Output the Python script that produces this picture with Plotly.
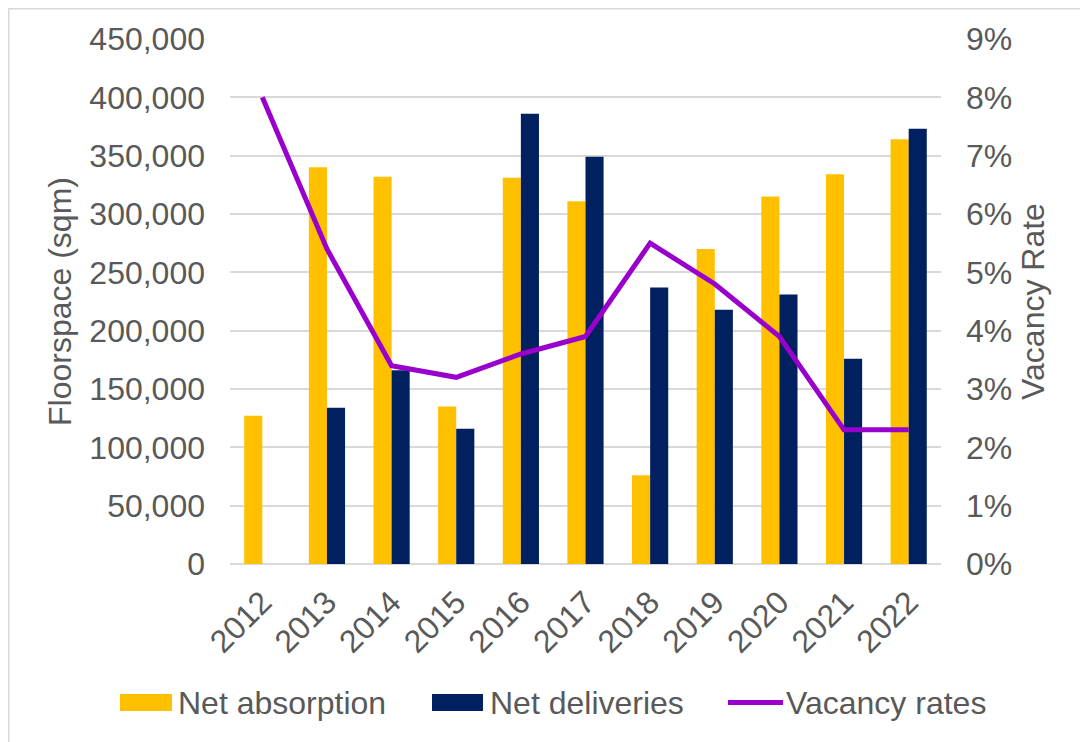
import plotly.graph_objects as go

years = ["2012", "2013", "2014", "2015", "2016", "2017", "2018", "2019", "2020", "2021", "2022"]
net_absorption = [127000, 340000, 332000, 135000, 331000, 311000, 76000, 270000, 315000, 334000, 364000]
net_deliveries = [0, 134000, 166000, 116000, 386000, 349000, 237000, 218000, 231000, 176000, 373000]
vacancy_rates = [0.080, 0.054, 0.034, 0.032, 0.036, 0.039, 0.055, 0.048, 0.039, 0.023, 0.023]

series_names = ["Net absorption", "Net deliveries", "Vacancy rates"]
series_colors = ["#FFC000", "#002060", "#9900CC"]

FONT = "Liberation Sans, Arial, sans-serif"
GREY = "#595959"
FS = 32

fig = go.Figure()
fig.add_trace(go.Bar(x=years, y=net_absorption, name=series_names[0],
                     marker=dict(color=series_colors[0], line=dict(width=0))))
fig.add_trace(go.Bar(x=years, y=net_deliveries, name=series_names[1],
                     marker=dict(color=series_colors[1], line=dict(width=0))))
fig.add_trace(go.Scatter(x=years, y=vacancy_rates, name=series_names[2], yaxis="y2",
                         mode="lines", line=dict(color=series_colors[2], width=5)))

# page offset (body margin) compensation: figure coordinates = screen - 8
OFF = 8
W, H = 1088 - OFF, 742 - OFF
L, R, T, B = 230 - OFF, 941 - OFF, 39 - OFF, 564 - OFF
def px(x):
    return (x - OFF - L) / (R - L)
def py(y):
    return (B - (y - OFF)) / (B - T)

shapes = [
    dict(type="line", xref="paper", yref="paper", x0=px(8), x1=px(1100), y0=py(8.5), y1=py(8.5),
         line=dict(color="#d9d9d9", width=2)),
    dict(type="line", xref="paper", yref="paper", x0=px(8.5), x1=px(8.5), y0=py(8), y1=py(760),
         line=dict(color="#d9d9d9", width=2)),
]
annotations = []

# legend drawn as swatches + text
leg_y = 702.5
swatches = [(120, 172, "rect"), (432, 483, "rect"), (728, 783, "line")]
text_x = [176, 488, 784]
for (x0, x1, kind), name, col, tx in zip(swatches, series_names, series_colors, text_x):
    if kind == "rect":
        shapes.append(dict(type="rect", xref="paper", yref="paper", x0=px(x0), x1=px(x1),
                           y0=py(leg_y - 8.5), y1=py(leg_y + 8.5), fillcolor=col,
                           line=dict(width=0)))
    else:
        shapes.append(dict(type="line", xref="paper", yref="paper", x0=px(x0), x1=px(x1),
                           y0=py(leg_y), y1=py(leg_y), line=dict(color=col, width=5)))
    annotations.append(dict(xref="paper", yref="paper", x=px(tx), y=py(leg_y),
                            xanchor="left", yanchor="middle", showarrow=False, text=name,
                            font=dict(size=FS, color=GREY, family=FONT)))

fig.update_layout(
    width=W, height=H,
    margin=dict(l=L, r=W - R, t=T, b=H - B, autoexpand=False),
    paper_bgcolor="white", plot_bgcolor="white",
    font=dict(family=FONT, size=FS, color=GREY),
    barmode="group", bargap=0.44, bargroupgap=0,
    showlegend=False,
    xaxis=dict(tickangle=-45, showgrid=False, showline=False, ticks="",
               tickfont=dict(size=FS, color=GREY), ticklabelstandoff=12),
    yaxis=dict(range=[0, 450000], dtick=50000, tickformat=",", showgrid=True,
               gridcolor="#d9d9d9", gridwidth=2, zeroline=True, zerolinecolor="#d9d9d9",
               zerolinewidth=2, showline=False, ticks="",
               tickfont=dict(size=FS, color=GREY), ticklabelstandoff=24,
               title=dict(text="Floorspace (sqm)", font=dict(size=FS, color=GREY), standoff=8)),
    yaxis2=dict(range=[0, 0.09], dtick=0.01, tickformat=".0%", overlaying="y", side="right",
                showgrid=False, zeroline=False, showline=False, ticks="",
                tickfont=dict(size=FS, color=GREY), ticklabelstandoff=24,
                title=dict(text="Vacancy Rate", font=dict(size=FS, color=GREY), standoff=10)),
    shapes=shapes,
    annotations=annotations,
)

fig.write_html("out.html")
